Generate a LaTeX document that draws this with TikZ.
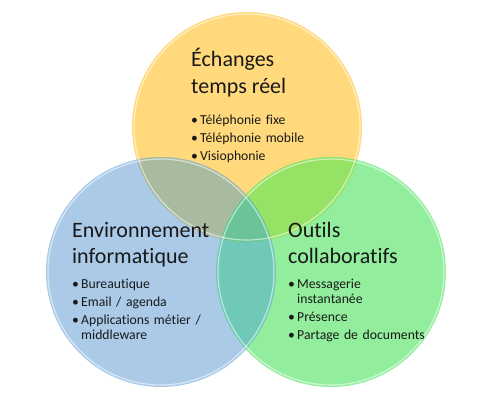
\documentclass[tikz,border=0pt]{standalone}
\usepackage{fontspec}
\setmainfont{Carlito}[Ligatures=NoCommon]
\usepackage{tikz}
\usetikzlibrary{positioning}
\definecolor{ytone}{RGB}{255,217,123}
\definecolor{btone}{RGB}{170,202,232}
\definecolor{gtone}{RGB}{146,238,156}
\definecolor{ybtone}{RGB}{168,186,160}
\definecolor{ygtone}{RGB}{150,226,100}
\definecolor{bgtone}{RGB}{112,200,184}
\definecolor{ybgtone}{RGB}{106,196,152}
\definecolor{inktone}{RGB}{25,25,25}
\newcommand{\vennitem}[1]{\par\hangindent=9pt\hangafter=1\noindent\makebox[9pt][l]{\textbullet}#1\par}
\tikzset{
  venntitle/.style={inner sep=0pt, align=left, text=inktone,
    font=\fontsize{22}{26.5}\selectfont},
  vennlist/.style={inner sep=0pt, text width=150pt, align=left, text=inktone,
    font=\fontsize{13.7}{15}\selectfont\setlength{\parskip}{3pt}},
  rim/.style={draw=white, draw opacity=0.55, line width=1.2pt},
}

\begin{document}
\begin{tikzpicture}[x=1pt, y=-1pt, node distance=6pt]
  \useasboundingbox (0,0) rectangle (495,400);
  \coordinate (cy) at (247,127);
  \coordinate (cb) at (161,272);
  \coordinate (cg) at (331,272);
  % plain discs
  \fill[ytone] (cy) circle[radius=115pt];
  \fill[btone] (cb) circle[radius=115pt];
  \fill[gtone] (cg) circle[radius=115pt];
  % overlaps
  \begin{scope}
    \clip (cb) circle[radius=115pt];
    \fill[bgtone] (cg) circle[radius=115pt];
  \end{scope}
  \begin{scope}
    \clip (cy) circle[radius=115pt];
    \fill[ybtone] (cb) circle[radius=115pt];
    \fill[ygtone] (cg) circle[radius=115pt];
    \clip (cb) circle[radius=115pt];
    \fill[ybgtone] (cg) circle[radius=115pt];
  \end{scope}
  % glossy edges
  \draw[rim] (cy) circle[radius=113pt];
  \draw[rim] (cb) circle[radius=113pt];
  \draw[rim] (cg) circle[radius=113pt];

  \node[venntitle, anchor=north west] (ytitle) at (191,48) {Échanges\\temps réel};
  \node[vennlist, below=9pt of ytitle.south west, anchor=north west] (ylist)
    {\vennitem{Téléphonie fixe}\vennitem{Téléphonie mobile}\vennitem{Visiophonie}};

  \node[venntitle, anchor=north west] (btitle) at (72,222) {Environnement\\informatique};
  \node[vennlist, below=3pt of btitle.south west, anchor=north west] (blist)
    {\vennitem{Bureautique}\vennitem{Email / agenda}\vennitem{Applications métier /\newline middleware}};

  \node[venntitle, anchor=north west] (gtitle) at (288,222) {Outils\\collaboratifs};
  \node[vennlist, below=of gtitle.south west, anchor=north west] (glist)
    {\vennitem{Messagerie\newline instantanée}\vennitem{Présence}\vennitem{Partage de documents}};
\end{tikzpicture}
\end{document}
